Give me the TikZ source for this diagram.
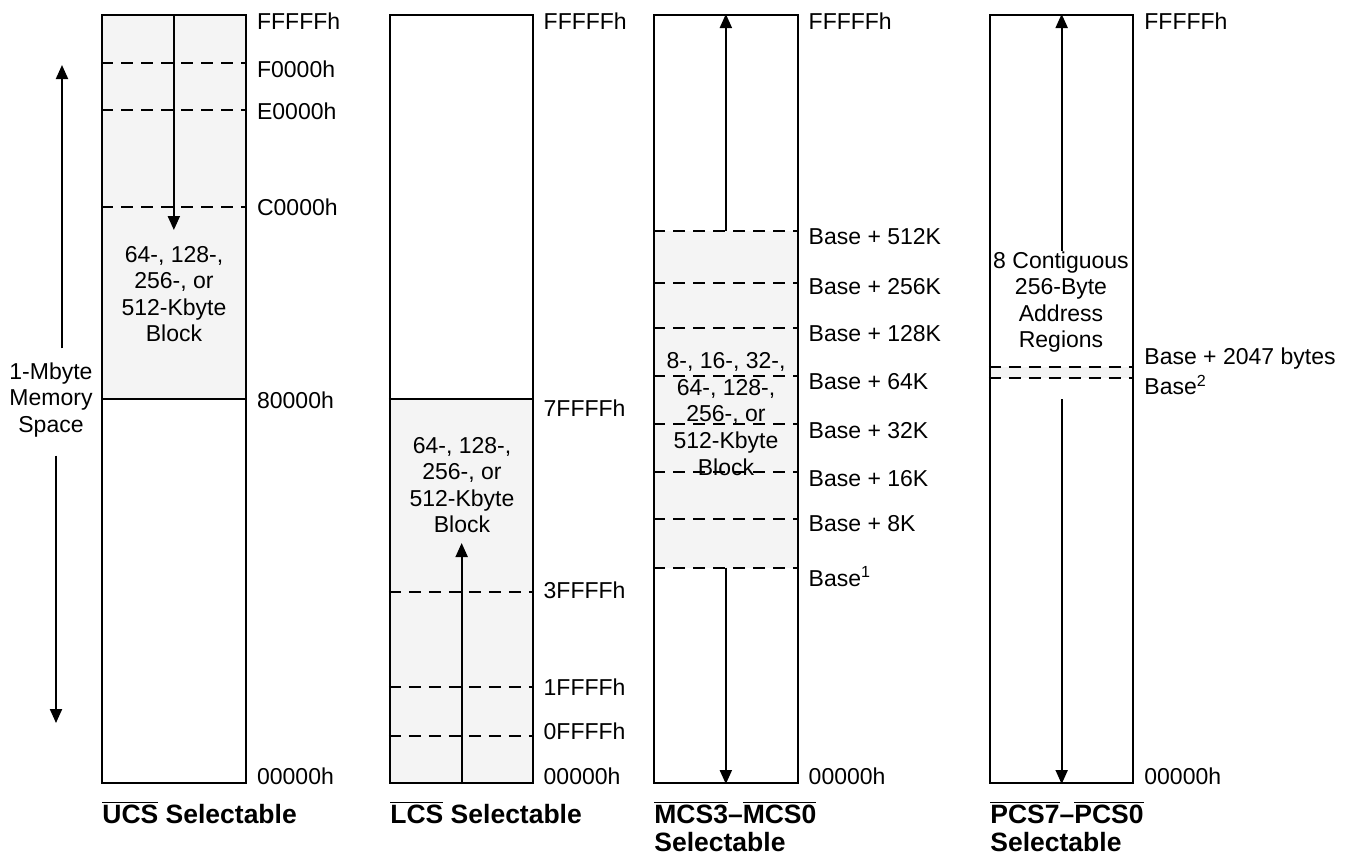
\documentclass[tikz,border=0pt]{standalone}
\usepackage{fontspec}
\setmainfont{Liberation Sans}
\usetikzlibrary{arrows.meta,backgrounds,positioning}
\definecolor{blkfill}{gray}{0.955}
\newcommand\addrfont{\fontsize{11.5}{13.3}\selectfont}
\newcommand\captfont{\fontsize{13.25}{14}\selectfont\bfseries}
\newcommand\actlow[1]{$\overline{\mbox{#1}}$}
\tikzset{
	mem/.style={draw, line width=1pt, minimum width=71.75pt, minimum height=384pt, inner sep=0pt},
	bound/.style={dash pattern=on 6pt off 4pt, line width=0.9pt},
	addr/.style={anchor=west, inner sep=0pt, text height=8.2pt, text depth=0pt, font=\addrfont},
	blk/.style={align=center, inner sep=0pt, font=\addrfont},
	capt/.style={anchor=north west, align=left, inner sep=0pt, font=\captfont},
	ptr/.style={line width=1pt, -{Triangle[length=7pt, width=6pt]}},
}

\begin{document}
\begin{tikzpicture}[x=0.5pt, y=-0.5pt]
	\useasboundingbox (0,0) rectangle (1352,859);

	% the four chip-select windows
	\node[mem] (ucs) at (173.85,399) {};
	\node[mem] (lcs) at (461.65,399) {};
	\node[mem] (mcs) at (725.85,399) {};
	\node[mem] (pcs) at (1061.65,399) {};

	\begin{scope}[on background layer]
		\fill[blkfill] (ucs.north west) rectangle (ucs.east);
		\fill[blkfill] (lcs.west) rectangle (lcs.south east);
		\fill[blkfill] (mcs.west |- 0,231) rectangle (mcs.east |- 0,568);
		\fill[blkfill] (pcs.west |- 0,366.7) rectangle (pcs.east |- 0,377.7);
	\end{scope}

	% block boundaries
	\foreach \y in {62.7,110.3,207}
		\draw[bound] (ucs.west |- 0,\y) -- (ucs.east |- 0,\y);
	\foreach \y in {591.7,687.3,736}
		\draw[bound] (lcs.west |- 0,\y) -- (lcs.east |- 0,\y);
	\foreach \y in {231,283.3,327.7,375.7,423.7,471.7,519.3,567.7}
		\draw[bound] (mcs.west |- 0,\y) -- (mcs.east |- 0,\y);
	\foreach \y in {366.7,377.7}
		\draw[bound] (pcs.west |- 0,\y) -- (pcs.east |- 0,\y);
	\draw[line width=1pt] (ucs.west) -- (ucs.east);
	\draw[line width=1pt] (lcs.west) -- (lcs.east);

	% address labels
	\foreach \t/\y [count=\i] in {FFFFFh/21, F0000h/69.7, E0000h/111.7, C0000h/207.5, 80000h/400, 00000h/776.7}
		\node[addr] (ua\i) at (256.7,\y) {\t};
	\foreach \t/\y [count=\i] in {FFFFFh/21, 7FFFFh/408, 3FFFFh/590, 1FFFFh/687, 0FFFFh/731.7, 00000h/776.7}
		\node[addr] (la\i) at (543.3,\y) {\t};
	\foreach \t/\y [count=\i] in {FFFFFh/21, Base + 512K/236.7, Base + 256K/286, Base + 128K/333.3,
			Base + 64K/381, Base + 32K/430, Base + 16K/478.3, Base + 8K/523.3,
			Base\textsuperscript{1}/578.3, 00000h/776.7}
		\node[addr] (ma\i) at (808.3,\y) {\t};
	\foreach \t/\y [count=\i] in {FFFFFh/21, Base + 2047 bytes/356.7, Base\textsuperscript{2}/386.7, 00000h/776.7}
		\node[addr] (pa\i) at (1144,\y) {\t};

	% block sizes
	\node[blk] (ucstxt) at (174,294) {64-, 128-,\\256-, or\\512-Kbyte\\Block};
	\node[blk] (lcstxt) at (462,485) {64-, 128-,\\256-, or\\512-Kbyte\\Block};
	\node[blk] (mcstxt) at (726,414) {8-, 16-, 32-,\\64-, 128-,\\256-, or\\512-Kbyte\\Block};
	\node[blk] (pcstxt) at (1061,302) {8 Contiguous\\256-Byte\\Address\\Regions};
	\node[blk] (space) at (51,400) {1-Mbyte\\Memory\\Space};

	% direction of growth
	\coordinate (ucsend) at (173.85,230);
	\coordinate (lcsend) at (461.65,543);
	\coordinate (memtop) at (62,65);
	\coordinate (membot) at (56,723);
	\draw[ptr] (ucs.north) -- (ucsend);
	\draw[ptr] (lcs.south) -- (lcsend);
	\draw[ptr] (mcs.center |- 0,231) -- (mcs.north);
	\draw[ptr] (mcs.center |- 0,567.7) -- (mcs.south);
	\draw[ptr] (pcstxt.north -| pcs.north) -- (pcs.north);
	\draw[ptr] (pcs.center) -- (pcs.south);
	\draw[ptr] ([yshift=7pt]space.north -| memtop) -- (memtop);
	\draw[ptr] ([yshift=-9pt]space.south -| membot) -- (membot);

	% captions
	\node[capt] (ucscap) at (102,801) {\actlow{UCS} Selectable};
	\node[capt] (lcscap) at (390,801) {\actlow{LCS} Selectable};
	\node[capt] (mcscap) at (654,801) {\actlow{MCS3}--\actlow{MCS0}\\Selectable};
	\node[capt] (pcscap) at (990,801) {\actlow{PCS7}--\actlow{PCS0}\\Selectable};
\end{tikzpicture}
\end{document}
